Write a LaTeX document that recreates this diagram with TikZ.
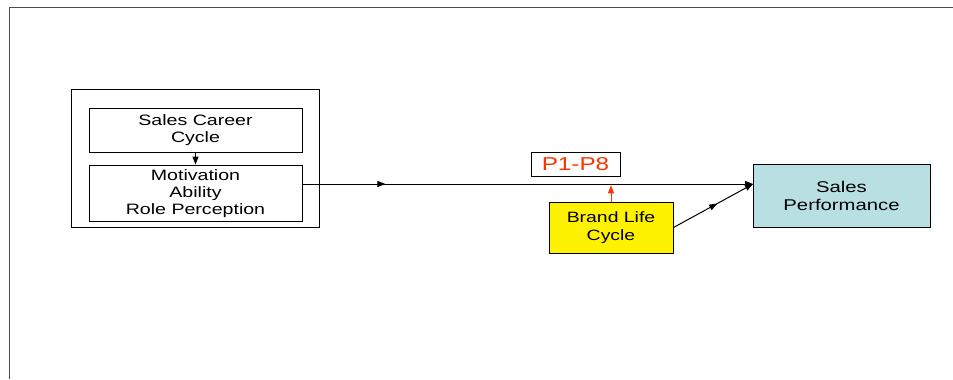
\documentclass[tikz,border=0pt]{standalone}
\usepackage{fontspec}
\setmainfont{Liberation Sans}[FakeStretch=1.3]
\usepackage{tikz}
\usetikzlibrary{positioning, arrows.meta, decorations.markings}
\definecolor{perfcyan}{RGB}{184,224,227}
\definecolor{linkred}{RGB}{255,51,0}
\begin{document}
\begin{tikzpicture}[x=0.75pt, y=-0.75pt,
     node distance = 9pt and 9pt,
     line width=0.75pt,
     >={Triangle[length=6pt,width=4.5pt]},
        box/.style = {rectangle, draw, inner sep=0pt, align=center,
                      font=\fontsize{11.3}{12.75}\selectfont},
       pbox/.style = {box, fill=perfcyan, font=\fontsize{11.7}{13.5}\selectfont},
       ybox/.style = {box, fill=yellow, font=\fontsize{11.2}{13.3}\selectfont},
   midarrow/.style = {postaction={decorate}, decoration={markings,
                      mark=at position #1 with {\arrow{>}}}}
                        ]
\useasboundingbox (0,0) rectangle (953,379);
\draw[gray!60!black] (9,379) -- (9,7.5) -- (953,7.5);
% left group
\node (group)[box, minimum width=186pt, minimum height=103.5pt] at (195,158) {};
\node (scc) [box, minimum width=159.75pt, minimum height=33pt] at (195.5,130) {\strut Sales Career\\Cycle};
\node (mot) [box, minimum width=159.75pt, minimum height=42pt, below =of scc] {\strut Motivation\\Ability\\Role Perception};
% right side
\node (perf)[pbox, minimum width=132.75pt, minimum height=47.25pt] at (841.5,195.5) {Sales\\Performance};
\node (brand)[ybox, minimum width=93pt, minimum height=38.25pt] at (611,227.5) {Brand Life\\Cycle};
\node (pp)  [box, text=linkred, minimum width=66.75pt, minimum height=18pt,
             font=\fontsize{14}{15}\selectfont] at (575.5,164) {P1-P8};
\coordinate (tip) at (753,184);
\draw[->] (scc) to (mot);
\draw[->, midarrow=0.184] (mot.east |- tip) to (tip);
\draw[->, midarrow=0.55] (brand.east) to (tip);
\draw[->, linkred, shorten >=1pt] (brand.north) to (brand.north |- tip);
\end{tikzpicture}
\end{document}
